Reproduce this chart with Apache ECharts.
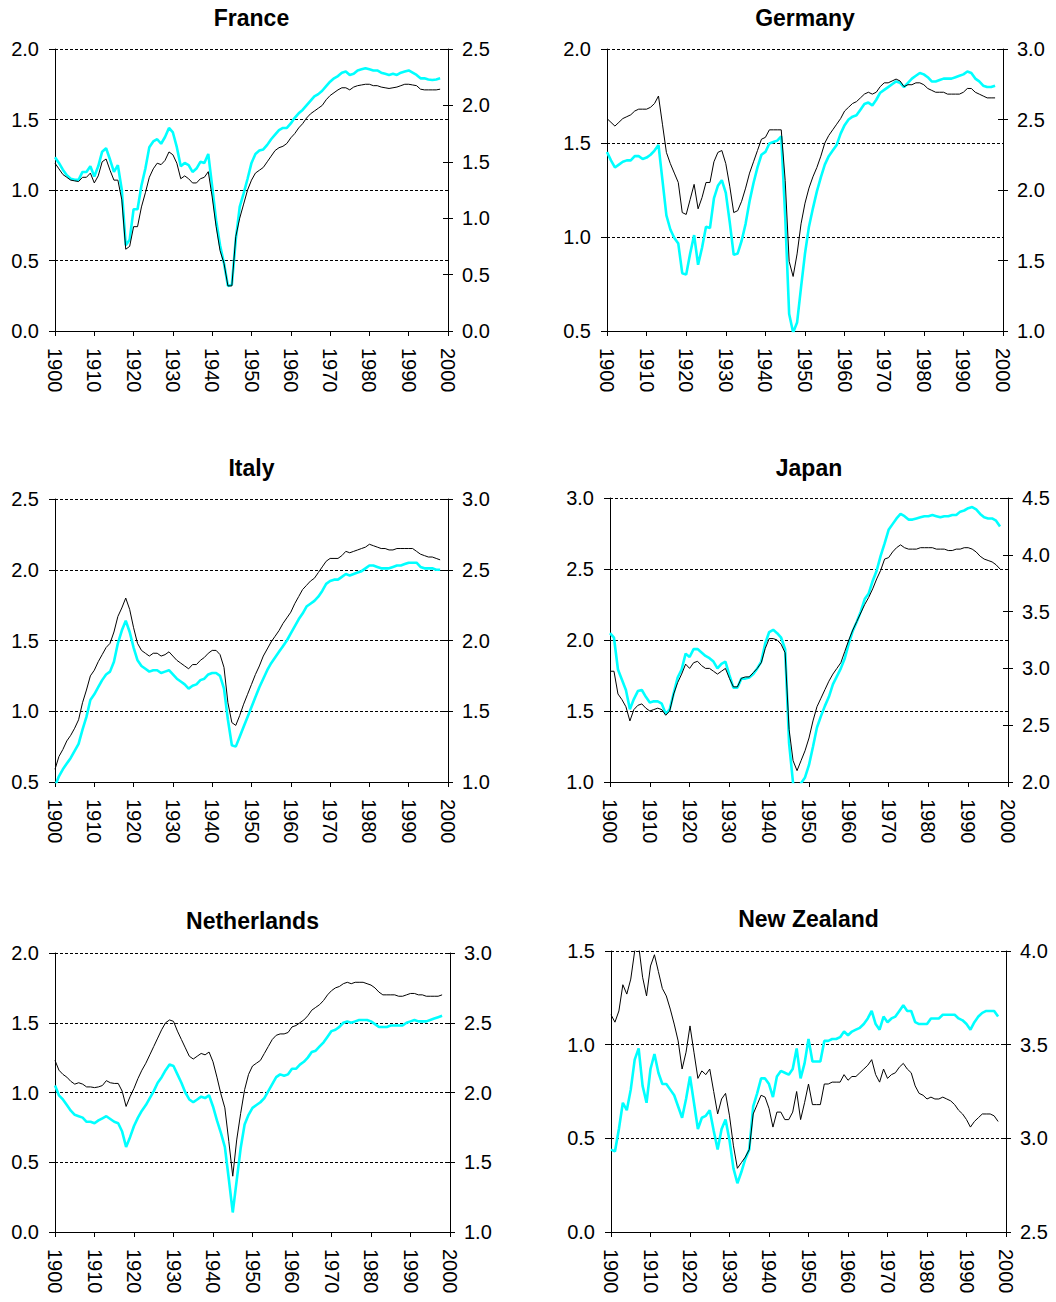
<!DOCTYPE html>
<html>
<head>
<meta charset="utf-8">
<title>Country panels 1900-2000</title>
<script src="https://cdn.jsdelivr.net/npm/echarts@6/dist/echarts.min.js"></script>
<style>
  html, body { margin: 0; padding: 0; background: #ffffff; }
  #chart { width: 1056px; height: 1302px; }
</style>
</head>
<body>
<div id="chart"></div>
<script>
// ---------------- DATA ----------------
const years = [];
for (let y = 1900; y <= 1998; y++) years.push(y);

const xTicks = [1900, 1910, 1920, 1930, 1940, 1950, 1960, 1970, 1980, 1990, 2000];

const panelTitles = ['France', 'Germany', 'Italy', 'Japan', 'Netherlands', 'New Zealand'];

// left-axis tick labels (black series) and right-axis tick labels (cyan series)
const franceLeftTicks = [0.0, 0.5, 1.0, 1.5, 2.0];
const franceRightTicks = [0.0, 0.5, 1.0, 1.5, 2.0, 2.5];
const germanyLeftTicks = [0.5, 1.0, 1.5, 2.0];
const germanyRightTicks = [1.0, 1.5, 2.0, 2.5, 3.0];
const italyLeftTicks = [0.5, 1.0, 1.5, 2.0, 2.5];
const italyRightTicks = [1.0, 1.5, 2.0, 2.5, 3.0];
const japanLeftTicks = [1.0, 1.5, 2.0, 2.5, 3.0];
const japanRightTicks = [2.0, 2.5, 3.0, 3.5, 4.0, 4.5];
const netherlandsLeftTicks = [0.0, 0.5, 1.0, 1.5, 2.0];
const netherlandsRightTicks = [1.0, 1.5, 2.0, 2.5, 3.0];
const newZealandLeftTicks = [0.0, 0.5, 1.0, 1.5];
const newZealandRightTicks = [2.5, 3.0, 3.5, 4.0];

// France
const franceBlack = [
  1.19, 1.15, 1.11, 1.09, 1.07, 1.065, 1.06, 1.09, 1.09, 1.12,
  1.05, 1.10, 1.20, 1.22, 1.14, 1.07, 1.07, 0.93, 0.58, 0.60,
  0.74, 0.74, 0.88, 0.98, 1.09, 1.15, 1.19, 1.18, 1.21, 1.27,
  1.25, 1.19, 1.08, 1.10, 1.08, 1.05, 1.05, 1.08, 1.09, 1.13,
  0.95, 0.74, 0.57, 0.48, 0.32, 0.32, 0.67, 0.80, 0.90, 1.00,
  1.07, 1.12, 1.14, 1.16, 1.20, 1.24, 1.28, 1.30, 1.31, 1.33,
  1.37, 1.40, 1.44, 1.47, 1.51, 1.54, 1.56, 1.58, 1.60, 1.64,
  1.67, 1.69, 1.71, 1.725, 1.725, 1.71, 1.73, 1.74, 1.745, 1.75,
  1.75, 1.74, 1.74, 1.73, 1.725, 1.72, 1.725, 1.73, 1.74, 1.75,
  1.75, 1.745, 1.74, 1.715, 1.71, 1.71, 1.71, 1.71, 1.715
];
const franceCyan = [
  1.54, 1.49, 1.43, 1.38, 1.35, 1.34, 1.34, 1.41, 1.41, 1.46,
  1.37, 1.46, 1.59, 1.62, 1.52, 1.41, 1.47, 1.25, 0.76, 0.81,
  1.08, 1.08, 1.29, 1.44, 1.63, 1.68, 1.70, 1.66, 1.72, 1.80,
  1.76, 1.63, 1.46, 1.49, 1.47, 1.41, 1.44, 1.50, 1.49, 1.57,
  1.28, 0.98, 0.76, 0.60, 0.40, 0.41, 0.81, 1.10, 1.22, 1.35,
  1.49, 1.57, 1.60, 1.61, 1.65, 1.70, 1.74, 1.78, 1.80, 1.80,
  1.84, 1.89, 1.93, 1.96, 2.00, 2.04, 2.08, 2.10, 2.13, 2.17,
  2.21, 2.24, 2.26, 2.29, 2.30, 2.27, 2.28, 2.31, 2.32, 2.33,
  2.32, 2.31, 2.31, 2.29, 2.28, 2.27, 2.28, 2.27, 2.29, 2.30,
  2.31, 2.29, 2.27, 2.24, 2.24, 2.23, 2.225, 2.23, 2.24
];

// Germany
const germanyBlack = [
  1.63, 1.61, 1.59, 1.61, 1.63, 1.64, 1.65, 1.67, 1.68, 1.68,
  1.68, 1.69, 1.71, 1.75, 1.60, 1.45, 1.39, 1.34, 1.29, 1.13,
  1.12, 1.20, 1.28, 1.15, 1.21, 1.29, 1.29, 1.40, 1.45, 1.46,
  1.39, 1.27, 1.13, 1.14, 1.19, 1.26, 1.34, 1.40, 1.46, 1.52,
  1.53, 1.57, 1.57, 1.57, 1.57, 1.30, 0.87, 0.79, 0.91, 1.07,
  1.18, 1.26, 1.32, 1.37, 1.43, 1.50, 1.54, 1.57, 1.60, 1.63,
  1.67, 1.69, 1.71, 1.72, 1.74, 1.76, 1.77, 1.76, 1.77, 1.80,
  1.82, 1.82, 1.83, 1.84, 1.83, 1.80, 1.81, 1.81, 1.82, 1.82,
  1.81, 1.79, 1.78, 1.77, 1.77, 1.77, 1.76, 1.76, 1.76, 1.76,
  1.77, 1.79, 1.79, 1.77, 1.76, 1.75, 1.74, 1.74, 1.74
];
const germanyCyan = [
  2.27, 2.21, 2.16, 2.18, 2.20, 2.21, 2.21, 2.24, 2.24, 2.22,
  2.23, 2.25, 2.28, 2.32, 2.07, 1.82, 1.72, 1.66, 1.62, 1.41,
  1.40, 1.55, 1.68, 1.47, 1.59, 1.74, 1.73, 1.94, 2.03, 2.07,
  1.98, 1.77, 1.54, 1.55, 1.64, 1.76, 1.92, 2.05, 2.16, 2.25,
  2.27, 2.33, 2.34, 2.35, 2.38, 1.81, 1.12, 0.99, 1.06, 1.31,
  1.55, 1.74, 1.87, 1.99, 2.09, 2.18, 2.24, 2.28, 2.32, 2.40,
  2.46, 2.50, 2.52, 2.53, 2.57, 2.61, 2.62, 2.60, 2.64, 2.69,
  2.71, 2.73, 2.75, 2.77, 2.76, 2.73, 2.76, 2.79, 2.81, 2.83,
  2.82, 2.80, 2.77, 2.77, 2.78, 2.79, 2.79, 2.79, 2.80, 2.81,
  2.82, 2.84, 2.83, 2.79, 2.77, 2.74, 2.73, 2.73, 2.74
];

// Italy
const italyBlack = [
  0.59, 0.68, 0.73, 0.79, 0.83, 0.88, 0.94, 1.06, 1.15, 1.25,
  1.29, 1.35, 1.40, 1.45, 1.48, 1.56, 1.67, 1.73, 1.80, 1.72,
  1.59, 1.48, 1.43, 1.41, 1.39, 1.41, 1.41, 1.39, 1.40, 1.42,
  1.39, 1.36, 1.34, 1.32, 1.30, 1.33, 1.33, 1.36, 1.38, 1.41,
  1.43, 1.43, 1.40, 1.31, 1.06, 0.92, 0.90, 0.97, 1.05, 1.12,
  1.19, 1.26, 1.32, 1.39, 1.44, 1.49, 1.53, 1.57, 1.62, 1.66,
  1.70, 1.76, 1.81, 1.86, 1.89, 1.92, 1.94, 1.98, 2.02, 2.06,
  2.08, 2.08, 2.08, 2.10, 2.13, 2.12, 2.13, 2.14, 2.15, 2.16,
  2.18, 2.17, 2.16, 2.15, 2.15, 2.14, 2.14, 2.15, 2.15, 2.15,
  2.15, 2.15, 2.13, 2.11, 2.10, 2.09, 2.09, 2.08, 2.07
];
const italyCyan = [
  0.97, 1.04, 1.09, 1.13, 1.17, 1.22, 1.27, 1.37, 1.46, 1.58,
  1.62, 1.67, 1.72, 1.76, 1.78, 1.85, 1.98, 2.07, 2.14, 2.06,
  1.95, 1.86, 1.82, 1.80, 1.78, 1.79, 1.79, 1.77, 1.78, 1.79,
  1.76, 1.73, 1.71, 1.69, 1.66, 1.68, 1.69, 1.72, 1.73, 1.76,
  1.77, 1.77, 1.75, 1.66, 1.44, 1.26, 1.25, 1.32, 1.39, 1.46,
  1.53, 1.60, 1.67, 1.73, 1.79, 1.84, 1.88, 1.92, 1.96, 2.00,
  2.05, 2.10, 2.15, 2.19, 2.24, 2.26, 2.28, 2.31, 2.35, 2.40,
  2.42, 2.43, 2.43, 2.45, 2.47, 2.46, 2.47, 2.48, 2.49, 2.51,
  2.53, 2.53, 2.52, 2.51, 2.51, 2.51, 2.52, 2.53, 2.53, 2.54,
  2.55, 2.55, 2.55, 2.52, 2.51, 2.51, 2.51, 2.50, 2.50
];

// Japan
const japanBlack = [
  1.78, 1.78, 1.62, 1.58, 1.53, 1.43, 1.51, 1.54, 1.55, 1.52,
  1.50, 1.51, 1.52, 1.51, 1.47, 1.50, 1.62, 1.70, 1.76, 1.83,
  1.80, 1.84, 1.85, 1.82, 1.80, 1.80, 1.78, 1.76, 1.78, 1.80,
  1.73, 1.67, 1.67, 1.73, 1.74, 1.74, 1.77, 1.80, 1.84, 1.94,
  2.01, 2.01, 2.00, 1.97, 1.91, 1.37, 1.15, 1.08, 1.15, 1.22,
  1.31, 1.43, 1.53, 1.59, 1.65, 1.71, 1.76, 1.80, 1.84, 1.92,
  2.00, 2.07, 2.13, 2.19, 2.25, 2.30, 2.36, 2.43, 2.49, 2.57,
  2.58, 2.62, 2.65, 2.67, 2.65, 2.64, 2.64, 2.64, 2.65, 2.65,
  2.65, 2.65, 2.64, 2.64, 2.64, 2.63, 2.63, 2.64, 2.64, 2.65,
  2.65, 2.64, 2.62, 2.59, 2.57, 2.56, 2.55, 2.53, 2.50
];
const japanCyan = [
  3.31, 3.27, 2.99, 2.90, 2.81, 2.64, 2.73, 2.80, 2.81, 2.75,
  2.70, 2.71, 2.71, 2.69, 2.60, 2.64, 2.78, 2.92, 2.99, 3.13,
  3.10, 3.17, 3.17, 3.14, 3.11, 3.09, 3.06, 3.00, 3.04, 3.06,
  2.94, 2.83, 2.83, 2.91, 2.91, 2.92, 2.95, 3.00, 3.06, 3.22,
  3.32, 3.34, 3.31, 3.27, 3.17, 2.34, 1.99, 1.90, 1.99, 2.04,
  2.15, 2.31, 2.48, 2.58, 2.67, 2.75, 2.86, 2.93, 3.00, 3.09,
  3.22, 3.33, 3.41, 3.50, 3.61, 3.66, 3.77, 3.86, 3.99, 4.10,
  4.22, 4.27, 4.32, 4.36, 4.34, 4.31, 4.31, 4.32, 4.33, 4.34,
  4.34, 4.35, 4.34, 4.33, 4.34, 4.34, 4.35, 4.35, 4.38, 4.39,
  4.41, 4.42, 4.40, 4.36, 4.33, 4.32, 4.32, 4.30, 4.25
];

// Netherlands
const netherlandsBlack = [
  1.23, 1.16, 1.13, 1.11, 1.08, 1.06, 1.07, 1.06, 1.04, 1.04,
  1.035, 1.04, 1.05, 1.085, 1.07, 1.065, 1.065, 1.01, 0.90, 0.97,
  1.03, 1.10, 1.16, 1.21, 1.27, 1.33, 1.39, 1.45, 1.50, 1.52,
  1.51, 1.44, 1.38, 1.32, 1.26, 1.24, 1.26, 1.28, 1.27, 1.29,
  1.22, 1.11, 0.99, 0.89, 0.65, 0.40, 0.66, 0.85, 1.02, 1.13,
  1.19, 1.21, 1.23, 1.28, 1.33, 1.38, 1.41, 1.42, 1.42, 1.43,
  1.47, 1.48, 1.50, 1.52, 1.55, 1.59, 1.61, 1.63, 1.66, 1.70,
  1.73, 1.75, 1.76, 1.78, 1.79, 1.78, 1.79, 1.79, 1.79, 1.78,
  1.77, 1.75, 1.72, 1.70, 1.70, 1.70, 1.70, 1.69, 1.69, 1.70,
  1.71, 1.71, 1.70, 1.70, 1.69, 1.69, 1.69, 1.69, 1.70
];
const netherlandsCyan = [
  2.05, 1.98, 1.95, 1.91, 1.87, 1.84, 1.83, 1.82, 1.79, 1.79,
  1.78, 1.80, 1.815, 1.83, 1.81, 1.79, 1.78, 1.72, 1.61, 1.68,
  1.76, 1.82, 1.87, 1.91, 1.96, 2.01, 2.07, 2.11, 2.16, 2.20,
  2.19, 2.13, 2.07, 2.00, 1.95, 1.93, 1.95, 1.97, 1.96, 1.98,
  1.90, 1.80, 1.71, 1.61, 1.38, 1.14, 1.37, 1.60, 1.77, 1.84,
  1.89, 1.91, 1.93, 1.96, 2.01, 2.06, 2.11, 2.13, 2.12, 2.13,
  2.17, 2.17, 2.20, 2.22, 2.25, 2.29, 2.30, 2.33, 2.36, 2.40,
  2.44, 2.45, 2.47, 2.50, 2.51, 2.50, 2.51, 2.52, 2.52, 2.52,
  2.51, 2.49, 2.47, 2.47, 2.47, 2.48, 2.48, 2.48, 2.48, 2.50,
  2.51, 2.52, 2.51, 2.51, 2.51, 2.52, 2.53, 2.54, 2.55
];

// New Zealand
const newZealandBlack = [
  1.16, 1.12, 1.18, 1.32, 1.27, 1.35, 1.50, 1.53, 1.36, 1.26,
  1.42, 1.48, 1.39, 1.30, 1.26, 1.19, 1.11, 1.02, 0.87, 0.96,
  1.10, 0.96, 0.82, 0.86, 0.84, 0.87, 0.75, 0.63, 0.71, 0.74,
  0.62, 0.46, 0.34, 0.37, 0.40, 0.44, 0.63, 0.68, 0.73, 0.72,
  0.66, 0.56, 0.64, 0.64, 0.60, 0.60, 0.64, 0.75, 0.60, 0.69,
  0.79, 0.68, 0.68, 0.68, 0.79, 0.79, 0.80, 0.80, 0.80, 0.84,
  0.81, 0.83, 0.83, 0.85, 0.87, 0.89, 0.92, 0.84, 0.80, 0.87,
  0.82, 0.84, 0.85, 0.88, 0.90, 0.87, 0.85, 0.78, 0.74, 0.73,
  0.71, 0.72, 0.71, 0.71, 0.72, 0.71, 0.70, 0.68, 0.65, 0.63,
  0.60, 0.56, 0.59, 0.61, 0.63, 0.63, 0.63, 0.62, 0.59
];
const newZealandCyan = [
  2.94, 2.93, 3.05, 3.19, 3.15, 3.26, 3.42, 3.48, 3.28, 3.19,
  3.37, 3.45, 3.35, 3.29, 3.29, 3.26, 3.23, 3.17, 3.11, 3.21,
  3.33, 3.19, 3.05, 3.11, 3.12, 3.15, 3.04, 2.94, 3.05, 3.10,
  2.99, 2.84, 2.76, 2.82, 2.89, 2.94, 3.17, 3.24, 3.32, 3.32,
  3.29, 3.22, 3.33, 3.36, 3.35, 3.34, 3.37, 3.48, 3.32, 3.40,
  3.53, 3.41, 3.41, 3.41, 3.52, 3.52, 3.53, 3.53, 3.54, 3.57,
  3.55, 3.57, 3.58, 3.59, 3.61, 3.64, 3.68, 3.61, 3.58, 3.65,
  3.62, 3.64, 3.65, 3.68, 3.71, 3.68, 3.68, 3.62, 3.61, 3.61,
  3.61, 3.64, 3.64, 3.64, 3.66, 3.66, 3.66, 3.66, 3.64, 3.63,
  3.61, 3.58, 3.62, 3.65, 3.67, 3.68, 3.68, 3.68, 3.65
];

// ---------------- LAYOUT / STYLE ----------------
const panels = [
  { title: panelTitles[0], black: franceBlack, cyan: franceCyan, lt: franceLeftTicks, rt: franceRightTicks,
    grid: { left: 55, top: 49, width: 393, height: 282 }, titleY: 18 },
  { title: panelTitles[1], black: germanyBlack, cyan: germanyCyan, lt: germanyLeftTicks, rt: germanyRightTicks,
    grid: { left: 607, top: 49, width: 396, height: 282 }, titleY: 18 },
  { title: panelTitles[2], black: italyBlack, cyan: italyCyan, lt: italyLeftTicks, rt: italyRightTicks,
    grid: { left: 55, top: 499, width: 393, height: 283 }, titleY: 468 },
  { title: panelTitles[3], black: japanBlack, cyan: japanCyan, lt: japanLeftTicks, rt: japanRightTicks,
    grid: { left: 610, top: 498, width: 398, height: 284 }, titleY: 468 },
  { title: panelTitles[4], black: netherlandsBlack, cyan: netherlandsCyan, lt: netherlandsLeftTicks, rt: netherlandsRightTicks,
    grid: { left: 55, top: 953, width: 395, height: 279 }, titleY: 921 },
  { title: panelTitles[5], black: newZealandBlack, cyan: newZealandCyan, lt: newZealandLeftTicks, rt: newZealandRightTicks,
    grid: { left: 611, top: 951, width: 395, height: 281 }, titleY: 919 }
];

const FONT = 'Liberation Sans, Arial, Helvetica, sans-serif';
const labelStyle = { color: '#000', fontFamily: FONT, fontSize: 20 };
const fmt = v => v.toFixed(1);

const grids = [], xAxes = [], yAxes = [], series = [], graphics = [];

panels.forEach((p, i) => {
  grids.push(Object.assign({ containLabel: false }, p.grid));

  xAxes.push({
    type: 'value', gridIndex: i,
    min: xTicks[0], max: xTicks[xTicks.length - 1], interval: 10,
    axisLine: { show: true, onZero: false, lineStyle: { color: '#000', width: 1 } },
    axisTick: { show: true, inside: false, length: 5, lineStyle: { color: '#000', width: 1 } },
    axisLabel: Object.assign({ rotate: -90, margin: 17, formatter: v => String(v) }, labelStyle),
    splitLine: { show: false }
  });

  const lmin = p.lt[0], lmax = p.lt[p.lt.length - 1];
  const rmin = p.rt[0], rmax = p.rt[p.rt.length - 1];

  // left axis (black series)
  yAxes.push({
    type: 'value', gridIndex: i, position: 'left',
    min: lmin, max: lmax, interval: 0.5,
    axisLine: { show: true, onZero: false, lineStyle: { color: '#000', width: 1 } },
    axisTick: { show: true, inside: false, length: 6, lineStyle: { color: '#000', width: 1 } },
    axisLabel: Object.assign({ margin: 16, formatter: fmt }, labelStyle),
    splitLine: { show: true, lineStyle: { color: '#000', width: 1, type: [3, 2] } }
  });
  // right axis (cyan series)
  yAxes.push({
    type: 'value', gridIndex: i, position: 'right',
    min: rmin, max: rmax, interval: 0.5,
    axisLine: { show: true, onZero: false, lineStyle: { color: '#000', width: 1 } },
    axisTick: { show: true, inside: false, length: 5, lineStyle: { color: '#000', width: 1 } },
    axisLabel: Object.assign({ margin: 14, formatter: fmt }, labelStyle),
    splitLine: { show: false }
  });
  // inner half of the crossing ticks on the right axis
  yAxes.push({
    type: 'value', gridIndex: i, position: 'right',
    min: rmin, max: rmax, interval: 0.5,
    axisLine: { show: false },
    axisTick: { show: true, inside: true, length: 5, lineStyle: { color: '#000', width: 1 } },
    axisLabel: { show: false },
    splitLine: { show: false }
  });

  series.push({
    type: 'line', xAxisIndex: i, yAxisIndex: 3 * i + 1,
    data: years.map((y, k) => [y, p.cyan[k]]),
    showSymbol: false, symbol: 'none', smooth: false, clip: true,
    lineStyle: { color: '#00FFFF', width: 2.6 }, z: 2
  });
  series.push({
    type: 'line', xAxisIndex: i, yAxisIndex: 3 * i,
    data: years.map((y, k) => [y, p.black[k]]),
    showSymbol: false, symbol: 'none', smooth: false, clip: true,
    lineStyle: { color: '#000000', width: 1 }, z: 3
  });

  graphics.push({
    type: 'text',
    x: p.grid.left + p.grid.width / 2,
    y: p.titleY,
    style: {
      text: p.title,
      fill: '#000',
      font: 'bold 23px ' + FONT,
      align: 'center', textAlign: 'center',
      verticalAlign: 'middle', textVerticalAlign: 'middle'
    }
  });
});

const chart = echarts.init(document.getElementById('chart'), null, { renderer: 'svg' });
chart.setOption({
  backgroundColor: '#ffffff',
  animation: false,
  grid: grids,
  xAxis: xAxes,
  yAxis: yAxes,
  series: series,
  graphic: graphics
});
</script>
</body>
</html>
